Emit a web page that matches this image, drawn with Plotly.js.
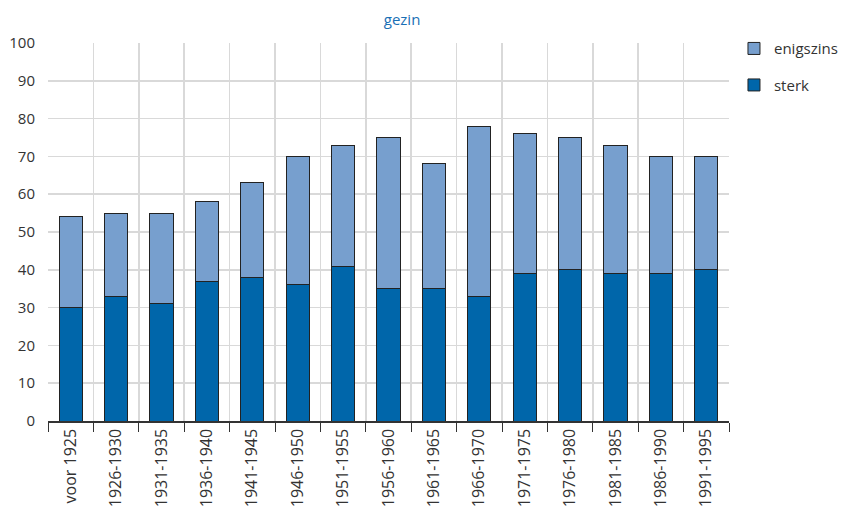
<!DOCTYPE html>
<html>
<head>
<meta charset="utf-8">
<script src="https://cdn.plot.ly/plotly-3.0.1.min.js"></script>
<style>html,body{margin:0;padding:0;background:#fff;}</style>
</head>
<body>
<div id="chart" style="width:850px;height:511px;"></div>
<script>
const categories = ["voor 1925","1926-1930","1931-1935","1936-1940","1941-1945","1946-1950","1951-1955","1956-1960","1961-1965","1966-1970","1971-1975","1976-1980","1981-1985","1986-1990","1991-1995"];
const sterk =     [30, 33, 31, 37, 38, 36, 41, 35, 35, 33, 39, 40, 39, 39, 40];
const enigszins = [24, 22, 24, 21, 25, 34, 32, 40, 33, 45, 37, 35, 34, 31, 30];
const yTicks = [0,10,20,30,40,50,60,70,80,90,100];

const font = "'Open Sans', Lato, sans-serif";
const traces = [
  {type:'bar', name:'sterk', x:categories, y:sterk, legendgroup:'b', legendrank:2,
   marker:{color:'#0066aa', line:{color:'#222', width:1}}, hoverinfo:'y'},
  {type:'bar', name:'enigszins', x:categories, y:enigszins, legendgroup:'a', legendrank:1,
   marker:{color:'#779fce', line:{color:'#222', width:1}}, hoverinfo:'y'}
];
const layout = {
  width:850, height:511,
  margin:{l:48, r:121, t:43, b:90, pad:0, autoexpand:false},
  barmode:'stack', bargap:0.49,
  paper_bgcolor:'#fff', plot_bgcolor:'#fff',
  font:{family:font, size:15, color:'#333'},
  title:{text:'gezin', font:{family:font, size:15, color:'#1a6fb5'}, x:0.473, xref:'container', y:0.962, yref:'container', xanchor:'center', yanchor:'middle'},
  xaxis:{type:'category', tickangle:-90, tickson:'boundaries', ticks:'outside', ticklen:9, tickcolor:'#333', tickwidth:1,
         showgrid:true, gridcolor:'#d9d9d9', gridwidth:1.5, showline:true, linecolor:'#333', linewidth:1.5,
         automargin:false, tickfont:{family:font, size:16, color:'#333'}, range:[-0.5,14.5]},
  yaxis:{range:[0,100], tickvals:yTicks, showgrid:true, gridcolor:'#d9d9d9', gridwidth:1.5, zeroline:false,
         showline:false, ticks:'', ticklabelstandoff:12, automargin:false, tickfont:{family:font, size:15, color:'#333'}},
  legend:{x:0.8635, xref:'container', xanchor:'left', y:0.937, yref:'container', yanchor:'top', traceorder:'grouped', tracegroupgap:14,
          font:{family:font, size:15, color:'#333'}, bgcolor:'rgba(0,0,0,0)'},
  showlegend:true
};
Plotly.newPlot('chart', traces, layout, {displayModeBar:false, staticPlot:true});
</script>
</body>
</html>
